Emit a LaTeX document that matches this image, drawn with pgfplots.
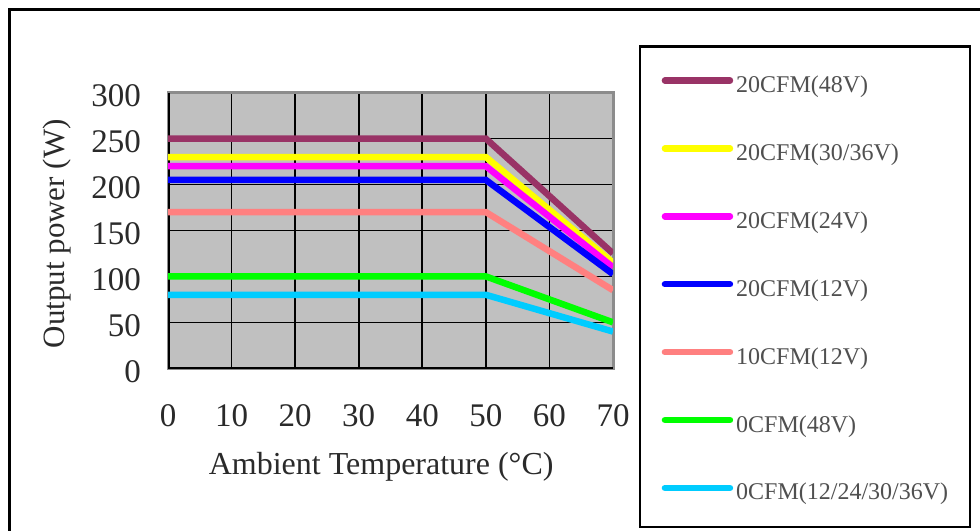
\documentclass[border=0pt]{standalone}
\usepackage{pgfplots}
\pgfplotsset{compat=1.18}
\usepackage{fontspec}
\setmainfont{Liberation Serif}
\definecolor{cMaroon}{HTML}{993366}
\definecolor{cYellow}{HTML}{FFFF00}
\definecolor{cMagenta}{HTML}{FF00FF}
\definecolor{cBlue}{HTML}{0000FF}
\definecolor{cPink}{HTML}{FF8080}
\definecolor{cGreen}{HTML}{00FF00}
\definecolor{cCyan}{HTML}{00CCFF}
\definecolor{bgGray}{HTML}{C0C0C0}
\definecolor{frameGray}{HTML}{8C8C8C}
\definecolor{tickGray}{HTML}{2A2A2A}
\definecolor{legGray}{HTML}{505050}
\begin{document}
\begin{tikzpicture}
\path[use as bounding box] (0,0) rectangle (980bp,531bp);
\clip (0,0) rectangle (980bp,531bp);
\fill[white] (0,0) rectangle (980bp,531bp);
\draw[line width=3bp] (9.5bp,-20bp) -- (9.5bp,521.5bp) -- (1000bp,521.5bp);
\draw[line width=2.5bp] (640bp,4bp) rectangle (970bp,484.5bp);
\begin{axis}[
  at={(168bp,162.7bp)}, anchor=south west,
  width=445bp, height=275.6bp, scale only axis,
  xmin=0, xmax=70, ymin=0, ymax=300,
  xtick={0,10,...,70}, ytick={0,50,...,300},
  major tick length=0pt,
  grid=major, major grid style={black, line width=1.6bp},
  axis background/.style={fill=bgGray},
  axis line style={draw=frameGray, line width=3bp},
  tick label style={font=\fontsize{33bp}{36bp}\selectfont, text=tickGray},
  /pgf/number format/assume math mode=true,
  xticklabel style={anchor=north, inner sep=0pt, yshift=-36bp},
  yticklabel style={anchor=east, inner sep=0pt, xshift=-27bp, yshift=-3bp},
  xlabel={Ambient Temperature (°C)},
  ylabel={Output power (W)},
  every axis x label/.style={at={(axis description cs:0.479,-0.359)}, anchor=center, font=\fontsize{32bp}{34bp}\selectfont, text=tickGray},
  every axis y label/.style={at={(axis description cs:-0.249,0.488)}, rotate=90, anchor=center, font=\fontsize{31bp}{34bp}\selectfont, text=tickGray},
  legend style={at={(axis description cs:1.109,1.063)}, anchor=north west, draw=none, fill=none, inner sep=0pt, row sep=45.9bp,
    font=\fontsize{24bp}{26bp}\selectfont, text=legGray,
    nodes={inner sep=0pt, text height=17bp, text depth=5bp, anchor=west},
    /tikz/every odd column/.append style={column sep=3bp}},
  legend cell align=left,
  legend image code/.code={\draw[#1, line cap=round, line width=6.5bp] (0bp,6bp) -- (65bp,6bp);},
  every axis plot/.append style={line width=6.5bp, line join=miter, mark=none},
]
\draw[black, line width=3bp] (axis cs:0,0) -- (axis cs:0,300);
\draw[black, line width=2.5bp] (axis cs:0,0) -- (axis cs:70,0);
\addplot[cMaroon] coordinates {(0,250) (50,250) (70,125)};
\addlegendentry{20CFM(48V)}
\addplot[cYellow] coordinates {(0,230) (50,230) (70,115)};
\addlegendentry{20CFM(30/36V)}
\addplot[cMagenta] coordinates {(0,220) (50,220) (70,110)};
\addlegendentry{20CFM(24V)}
\addplot[cBlue] coordinates {(0,205) (50,205) (70,102.5)};
\addlegendentry{20CFM(12V)}
\addplot[cPink] coordinates {(0,170) (50,170) (70,85)};
\addlegendentry{10CFM(12V)}
\addplot[cGreen] coordinates {(0,100) (50,100) (70,50)};
\addlegendentry{0CFM(48V)}
\addplot[cCyan] coordinates {(0,80) (50,80) (70,40)};
\addlegendentry{0CFM(12/24/30/36V)}
\end{axis}
\end{tikzpicture}
\end{document}
